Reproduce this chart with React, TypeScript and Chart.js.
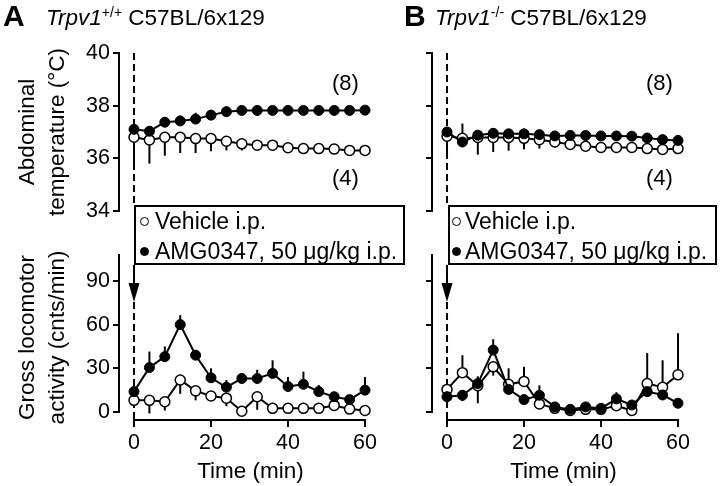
import React, { useEffect, useRef } from 'react';
import { Chart, registerables } from 'chart.js';

Chart.register(...registerables);

const FONT = '"Liberation Sans", Arial, Helvetica, sans-serif';
Chart.defaults.font.family = FONT;
Chart.defaults.color = '#000';

// ---- data ----
const TIME = [0, 4, 8, 12, 16, 20, 24, 28, 32, 36, 40, 44, 48, 52, 56, 60];
const X_TICKS = [0, 20, 40, 60];
const TEMP_TICKS = [34, 36, 38, 40];
const LOCO_TICKS = [0, 30, 60, 90];

// Panel A (Trpv1+/+) abdominal temperature
const A_TEMP_VEH = [36.8, 36.7, 36.8, 36.8, 36.75, 36.75, 36.65, 36.55, 36.5, 36.5, 36.4, 36.37, 36.37, 36.35, 36.3, 36.3];
const A_TEMP_VEH_ERR = [-1.0, -0.9, -0.7, -0.6, -0.55, -0.48, -0.35, -0.25, -0.2, -0.2, -0.2, -0.18, -0.15, -0.15, -0.15, -0.15];
const A_TEMP_AMG = [37.1, 37.03, 37.37, 37.42, 37.49, 37.64, 37.77, 37.82, 37.82, 37.82, 37.82, 37.82, 37.82, 37.82, 37.82, 37.83];
const A_TEMP_AMG_ERR = [0.1, 0.1, 0.2, 0.2, 0.24, 0.2, 0.2, 0.1, 0.1, 0.1, 0.1, 0.1, 0.1, 0.1, 0.1, 0.1];

// Panel B (Trpv1-/-) abdominal temperature
const B_TEMP_VEH = [36.84, 36.76, 36.79, 36.79, 36.79, 36.76, 36.71, 36.62, 36.53, 36.46, 36.41, 36.41, 36.41, 36.37, 36.34, 36.37];
const B_TEMP_VEH_ERR = [-0.6, -0.3, -0.65, -0.55, -0.5, -0.42, -0.34, -0.2, -0.15, -0.15, -0.15, -0.15, -0.15, -0.15, -0.15, -0.15];
const B_TEMP_AMG = [37.0, 36.62, 36.88, 36.95, 36.93, 36.93, 36.9, 36.85, 36.87, 36.87, 36.85, 36.85, 36.84, 36.77, 36.71, 36.68];
const B_TEMP_AMG_ERR = [0.1, 0.7, 0.1, 0.1, 0.1, 0.1, 0.1, 0.1, 0.1, 0.1, 0.1, 0.1, 0.1, 0.1, 0.1, 0.1];

// Panel A gross locomotor activity
const A_LOCO_VEH = [8, 8, 7, 22, 14.5, 11, 9.5, 0.5, 10.5, 2.5, 2.5, 2.5, 2.5, 4.5, 2, 1];
const A_LOCO_VEH_ERR = [-2, -9, -6, -9.5, -6.5, -2, -5.5, 0, -9, -1, -1, -1, -1, -1, -1, -1];
const A_LOCO_AMG = [14, 30.5, 38, 60, 39, 23.5, 17, 23, 23, 26.5, 17.5, 19, 14, 10.5, 8.5, 15];
const A_LOCO_AMG_ERR = [3, 11, 7, 6.5, 3, 6.5, 5, 3.5, 6, 9, 6.5, 8.7, 4.5, 3, 3, 9];

// Panel B gross locomotor activity
const B_LOCO_VEH = [15.5, 27, 18, 31, 19, 21, 5.5, 2.5, 1, 1.8, 1.8, 4.3, 1, 19.5, 17, 25.5];
const B_LOCO_VEH_ERR = [6, 12, -12, -6, 2, 10, 1, 1, 1, 1, 1, 1, 1, 21, 18.5, 28.5];
const B_LOCO_AMG = [10.5, 11.5, 19.5, 42.5, 15.5, 8.5, 11.5, 3.5, 1.8, 3.5, 2.5, 9, 4.8, 14, 11.7, 6];
const B_LOCO_AMG_ERR = [3, -4, 5, 7.5, 14.5, 2, 6.8, 1, 1, 1, 1, 4.6, 2, 3, -3.5, 1];

const LABEL_VEH = 'Vehicle i.p.';
const LABEL_AMG = 'AMG0347, 50 μg/kg i.p.';

// ---- plugin: axis lines, reference line, arrow, error bars ----
const decorPlugin = {
  id: 'decor',
  beforeDatasetsDraw(chart: any, _args: any, opts: any) {
    const { ctx, chartArea } = chart;
    const xs = chart.scales.x;
    const ys = chart.scales.y;
    ctx.save();
    ctx.strokeStyle = '#000';
    ctx.fillStyle = '#000';
    ctx.lineWidth = 2;
    // y axis line
    ctx.beginPath();
    ctx.moveTo(chartArea.left, ys.getPixelForValue(opts.yLine[0]) + 1);
    ctx.lineTo(chartArea.left, ys.getPixelForValue(opts.yLine[1]) - 1);
    ctx.stroke();
    // x axis line
    if (opts.xLine) {
      ctx.beginPath();
      ctx.moveTo(xs.getPixelForValue(opts.xLine[0]) - 1, chartArea.bottom);
      ctx.lineTo(xs.getPixelForValue(opts.xLine[1]) + 1, chartArea.bottom);
      ctx.stroke();
    }
    const x0 = xs.getPixelForValue(0);
    // dashed injection line
    ctx.setLineDash([7, 4]);
    ctx.beginPath();
    ctx.moveTo(x0, ys.getPixelForValue(opts.dash[0]));
    ctx.lineTo(x0, ys.getPixelForValue(opts.dash[1]));
    ctx.stroke();
    ctx.setLineDash([]);
    // arrow
    if (opts.arrow) {
      const yStart = ys.getPixelForValue(opts.arrow[0]);
      const yTip = ys.getPixelForValue(opts.arrow[1]);
      const head = 19;
      ctx.beginPath();
      ctx.moveTo(x0, yStart);
      ctx.lineTo(x0, yTip - head + 1);
      ctx.stroke();
      ctx.beginPath();
      ctx.moveTo(x0 - 5.5, yTip - head);
      ctx.lineTo(x0 + 5.5, yTip - head);
      ctx.lineTo(x0, yTip);
      ctx.closePath();
      ctx.fill();
    }
    // error bars (no caps)
    chart.data.datasets.forEach((ds: any) => {
      const errs = ds.errors;
      if (!errs) return;
      ds.data.forEach((p: any, i: number) => {
        const e = errs[i];
        if (!e) return;
        const px = xs.getPixelForValue(p.x);
        ctx.beginPath();
        ctx.moveTo(px, ys.getPixelForValue(p.y));
        ctx.lineTo(px, ys.getPixelForValue(p.y + e));
        ctx.stroke();
      });
    });
    ctx.restore();
  },
  afterDraw(chart: any, _args: any, opts: any) {
    if (!opts.xTitle) return;
    const { ctx, chartArea } = chart;
    const xs = chart.scales.x;
    ctx.save();
    ctx.fillStyle = '#000';
    ctx.font = `22.5px ${FONT}`;
    ctx.textAlign = 'center';
    ctx.textBaseline = 'alphabetic';
    ctx.fillText(opts.xTitle, xs.getPixelForValue(30) + 1, chartArea.bottom + 58);
    ctx.restore();
  },
};

type PanelProps = {
  kind: 'temp' | 'loco';
  side: 'A' | 'B';
  veh: number[];
  vehErr: number[];
  amg: number[];
  amgErr: number[];
};

function buildConfig(p: PanelProps): any {
  const isTemp = p.kind === 'temp';
  const isA = p.side === 'A';
  const pts = (vals: number[]) => TIME.map((t, i) => ({ x: t, y: vals[i] }));
  const yMin = isTemp ? 34 : -5.5;
  const yMax = isTemp ? 40 : 107.8;
  const yTicks = isTemp ? TEMP_TICKS : LOCO_TICKS;
  return {
    type: 'line',
    data: {
      datasets: [
        {
          label: LABEL_AMG,
          data: pts(p.amg),
          errors: p.amgErr,
          borderColor: '#000',
          backgroundColor: '#000',
          pointBackgroundColor: '#000',
          pointBorderColor: '#000',
          pointRadius: 5,
          pointBorderWidth: 1,
          borderWidth: 2,
          tension: 0,
          clip: false,
        },
        {
          label: LABEL_VEH,
          data: pts(p.veh),
          errors: p.vehErr,
          borderColor: '#000',
          backgroundColor: '#fff',
          pointBackgroundColor: '#fff',
          pointBorderColor: '#000',
          pointRadius: 5,
          pointBorderWidth: 1.5,
          borderWidth: 2,
          tension: 0,
          clip: false,
        },
      ],
    },
    options: {
      animation: false,
      responsive: false,
      events: [],
      layout: {
        padding: {
          left: isA ? 0 : 313,
          right: isA ? 355 : 42,
          top: isTemp ? 53 : 255,
          bottom: isTemp ? 275 : 0,
        },
      },
      plugins: {
        legend: { display: false },
        tooltip: { enabled: false },
        decor: {
          yLine: [yMin < 0 ? 0 : yMin, yMax],
          xLine: isTemp ? null : [0, 60],
          dash: isTemp ? [40, 34.23] : [75.5, -5.5],
          arrow: isTemp ? null : [101, 75.5],
          xTitle: isTemp ? null : 'Time (min)',
        },
      },
      scales: {
        x: {
          type: 'linear',
          min: -3.9,
          max: 60,
          display: !isTemp,
          afterBuildTicks: (s: any) => {
            s.ticks = X_TICKS.map((v) => ({ value: v }));
          },
          afterFit: (s: any) => {
            s.height = isTemp ? 0 : 66;
          },
          grid: { drawOnChartArea: false, drawTicks: true, tickLength: 7, color: '#000', lineWidth: 2 },
          border: { display: false },
          ticks: { color: '#000', font: { size: 21.5 }, padding: 3, maxRotation: 0, autoSkip: false },
        },
        y: {
          type: 'linear',
          min: yMin,
          max: yMax,
          afterBuildTicks: (s: any) => {
            s.ticks = yTicks.map((v) => ({ value: v }));
          },
          afterFit: (s: any) => {
            s.width = 119;
          },
          grid: { drawOnChartArea: false, drawTicks: true, tickLength: 6, color: '#000', lineWidth: 2 },
          border: { display: false },
          ticks: { display: isA, color: '#000', font: { size: 21.5 }, padding: 3, autoSkip: false },
          title: {
            display: isA,
            text: isTemp ? ['Abdominal', 'temperature (°C)'] : ['Gross locomotor', 'activity (cnts/min)'],
            color: '#000',
            font: { size: 22.5, lineHeight: 1.35 },
            padding: { top: 12.5, bottom: 0 },
          },
        },
      },
    },
    plugins: [decorPlugin],
  };
}

function Panel(props: PanelProps) {
  const ref = useRef<HTMLCanvasElement | null>(null);
  useEffect(() => {
    if (!ref.current) return;
    const chart = new Chart(ref.current, buildConfig(props));
    return () => chart.destroy();
  }, []);
  return (
    <canvas
      ref={ref}
      width={720}
      height={486}
      style={{ position: 'absolute', left: 0, top: 0, width: 720, height: 486 }}
    />
  );
}

const abs = (left: number, top: number, extra: any = {}): any => ({
  position: 'absolute',
  left,
  top,
  whiteSpace: 'nowrap',
  ...extra,
});

function Legend({ left, width, markerX, textX }: { left: number; width: number; markerX: number; textX: number }) {
  const row = (top: number, filled: boolean, text: string) => (
    <>
      <div
        style={abs(markerX - left - 2 - 4.5, top - 205 - 2 - 4.5, {
          width: 9,
          height: 9,
          borderRadius: '50%',
          boxSizing: 'border-box',
          border: '1.5px solid #000',
          background: filled ? '#000' : '#fff',
        })}
      />
      <div style={abs(textX - left - 2, top - 205 - 2 - 15, { fontSize: 23, lineHeight: '30px' })}>{text}</div>
    </>
  );
  return (
    <div
      style={abs(left, 205, {
        width,
        height: 60,
        boxSizing: 'border-box',
        border: '2px solid #000',
        background: '#fff',
      })}
    >
      {row(221, false, LABEL_VEH)}
      {row(251, true, LABEL_AMG)}
    </div>
  );
}

function Title({ letter, letterX, textX, sup }: { letter: string; letterX: number; textX: number; sup: string }) {
  return (
    <>
      <div style={abs(letterX, -2, { fontSize: 30, fontWeight: 'bold', lineHeight: '36px' })}>{letter}</div>
      <div style={abs(textX, 3, { fontSize: 22.5, lineHeight: '30px' })}>
        <i>Trpv1</i>
        <span style={{ fontSize: 14, position: 'relative', top: -8 }}>{sup}</span> C57BL/6x129
      </div>
    </>
  );
}

export default function App() {
  useEffect(() => {
    document.body.style.margin = '0';
  }, []);
  return (
    <div
      style={{
        position: 'absolute',
        left: 0,
        top: 0,
        width: 720,
        height: 486,
        background: '#fff',
        overflow: 'hidden',
        fontFamily: FONT,
        color: '#000',
      }}
    >
      <Panel kind="temp" side="A" veh={A_TEMP_VEH} vehErr={A_TEMP_VEH_ERR} amg={A_TEMP_AMG} amgErr={A_TEMP_AMG_ERR} />
      <Panel kind="temp" side="B" veh={B_TEMP_VEH} vehErr={B_TEMP_VEH_ERR} amg={B_TEMP_AMG} amgErr={B_TEMP_AMG_ERR} />
      <Panel kind="loco" side="A" veh={A_LOCO_VEH} vehErr={A_LOCO_VEH_ERR} amg={A_LOCO_AMG} amgErr={A_LOCO_AMG_ERR} />
      <Panel kind="loco" side="B" veh={B_LOCO_VEH} vehErr={B_LOCO_VEH_ERR} amg={B_LOCO_AMG} amgErr={B_LOCO_AMG_ERR} />

      <Title letter="A" letterX={3} textX={46} sup="+/+" />
      <Title letter="B" letterX={404} textX={435} sup="-/-" />

      <div style={abs(332, 72, { fontSize: 22, lineHeight: '22px' })}>(8)</div>
      <div style={abs(332, 167, { fontSize: 22, lineHeight: '22px' })}>(4)</div>
      <div style={abs(646, 72, { fontSize: 22, lineHeight: '22px' })}>(8)</div>
      <div style={abs(646, 167, { fontSize: 22, lineHeight: '22px' })}>(4)</div>

      <Legend left={134} width={271} markerX={144.5} textX={155} />
      <Legend left={448} width={269} markerX={456} textX={465} />
    </div>
  );
}
